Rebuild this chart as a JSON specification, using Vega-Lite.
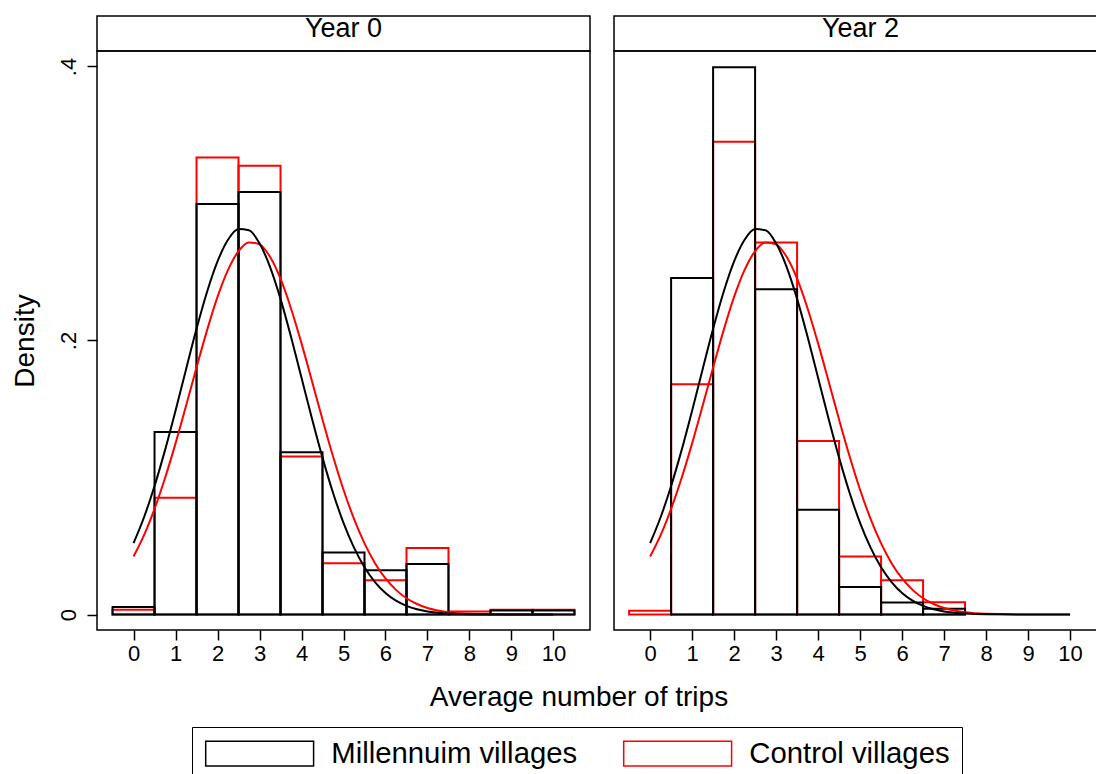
{
  "$schema": "https://vega.github.io/schema/vega-lite/v6.json",
  "background": "white",
  "padding": {"left": 10, "top": 14, "right": 0, "bottom": 0},
  "config": {
    "font": "Liberation Sans",
    "view": {"stroke": "black", "strokeWidth": 1.5},
    "axis": {"domain": false, "grid": false, "tickColor": "black", "tickWidth": 1.5, "labelColor": "black", "titleColor": "black", "labelFont": "Liberation Sans", "titleFont": "Liberation Sans", "titleFontWeight": "normal"},
    "legend": {"labelFont": "Liberation Sans"}
  },
  "datasets": {
    "bars": [
      {"panel": "Year 0", "group": "Control villages", "x": -0.5, "x_end": 0.5, "density": 0.0034},
      {"panel": "Year 0", "group": "Control villages", "x": 0.5, "x_end": 1.5, "density": 0.0853},
      {"panel": "Year 0", "group": "Control villages", "x": 1.5, "x_end": 2.5, "density": 0.3335},
      {"panel": "Year 0", "group": "Control villages", "x": 2.5, "x_end": 3.5, "density": 0.3276},
      {"panel": "Year 0", "group": "Control villages", "x": 3.5, "x_end": 4.5, "density": 0.1153},
      {"panel": "Year 0", "group": "Control villages", "x": 4.5, "x_end": 5.5, "density": 0.0375},
      {"panel": "Year 0", "group": "Control villages", "x": 5.5, "x_end": 6.5, "density": 0.0251},
      {"panel": "Year 0", "group": "Control villages", "x": 6.5, "x_end": 7.5, "density": 0.0485},
      {"panel": "Year 0", "group": "Control villages", "x": 7.5, "x_end": 8.5, "density": 0.0022},
      {"panel": "Year 0", "group": "Control villages", "x": 8.5, "x_end": 9.5, "density": 0.0035},
      {"panel": "Year 0", "group": "Control villages", "x": 9.5, "x_end": 10.5, "density": 0.0035},
      {"panel": "Year 0", "group": "Millennuim villages", "x": -0.5, "x_end": 0.5, "density": 0.0055},
      {"panel": "Year 0", "group": "Millennuim villages", "x": 0.5, "x_end": 1.5, "density": 0.1332},
      {"panel": "Year 0", "group": "Millennuim villages", "x": 1.5, "x_end": 2.5, "density": 0.2997},
      {"panel": "Year 0", "group": "Millennuim villages", "x": 2.5, "x_end": 3.5, "density": 0.3084},
      {"panel": "Year 0", "group": "Millennuim villages", "x": 3.5, "x_end": 4.5, "density": 0.1185},
      {"panel": "Year 0", "group": "Millennuim villages", "x": 4.5, "x_end": 5.5, "density": 0.0453},
      {"panel": "Year 0", "group": "Millennuim villages", "x": 5.5, "x_end": 6.5, "density": 0.0324},
      {"panel": "Year 0", "group": "Millennuim villages", "x": 6.5, "x_end": 7.5, "density": 0.0368},
      {"panel": "Year 0", "group": "Millennuim villages", "x": 7.5, "x_end": 8.5, "density": 0.0},
      {"panel": "Year 0", "group": "Millennuim villages", "x": 8.5, "x_end": 9.5, "density": 0.003},
      {"panel": "Year 0", "group": "Millennuim villages", "x": 9.5, "x_end": 10.5, "density": 0.003},
      {"panel": "Year 2", "group": "Control villages", "x": -0.5, "x_end": 0.5, "density": 0.0027},
      {"panel": "Year 2", "group": "Control villages", "x": 0.5, "x_end": 1.5, "density": 0.168},
      {"panel": "Year 2", "group": "Control villages", "x": 1.5, "x_end": 2.5, "density": 0.345},
      {"panel": "Year 2", "group": "Control villages", "x": 2.5, "x_end": 3.5, "density": 0.2715},
      {"panel": "Year 2", "group": "Control villages", "x": 3.5, "x_end": 4.5, "density": 0.1267},
      {"panel": "Year 2", "group": "Control villages", "x": 4.5, "x_end": 5.5, "density": 0.0424},
      {"panel": "Year 2", "group": "Control villages", "x": 5.5, "x_end": 6.5, "density": 0.0251},
      {"panel": "Year 2", "group": "Control villages", "x": 6.5, "x_end": 7.5, "density": 0.009},
      {"panel": "Year 2", "group": "Millennuim villages", "x": 0.5, "x_end": 1.5, "density": 0.2457},
      {"panel": "Year 2", "group": "Millennuim villages", "x": 1.5, "x_end": 2.5, "density": 0.3995},
      {"panel": "Year 2", "group": "Millennuim villages", "x": 2.5, "x_end": 3.5, "density": 0.2374},
      {"panel": "Year 2", "group": "Millennuim villages", "x": 3.5, "x_end": 4.5, "density": 0.0765},
      {"panel": "Year 2", "group": "Millennuim villages", "x": 4.5, "x_end": 5.5, "density": 0.020},
      {"panel": "Year 2", "group": "Millennuim villages", "x": 5.5, "x_end": 6.5, "density": 0.0088},
      {"panel": "Year 2", "group": "Millennuim villages", "x": 6.5, "x_end": 7.5, "density": 0.0042}
    ],
    "curves": [
      {"group": "Control villages", "x": 0, "density": 0.0423},
      {"group": "Control villages", "x": 0.25, "density": 0.0579},
      {"group": "Control villages", "x": 0.5, "density": 0.0771},
      {"group": "Control villages", "x": 0.75, "density": 0.0996},
      {"group": "Control villages", "x": 1, "density": 0.1249},
      {"group": "Control villages", "x": 1.25, "density": 0.1523},
      {"group": "Control villages", "x": 1.5, "density": 0.1803},
      {"group": "Control villages", "x": 1.75, "density": 0.2074},
      {"group": "Control villages", "x": 2, "density": 0.2318},
      {"group": "Control villages", "x": 2.25, "density": 0.2515},
      {"group": "Control villages", "x": 2.5, "density": 0.2652},
      {"group": "Control villages", "x": 2.75, "density": 0.2716},
      {"group": "Control villages", "x": 3, "density": 0.2702},
      {"group": "Control villages", "x": 3.25, "density": 0.2611},
      {"group": "Control villages", "x": 3.5, "density": 0.2451},
      {"group": "Control villages", "x": 3.75, "density": 0.2234},
      {"group": "Control villages", "x": 4, "density": 0.1979},
      {"group": "Control villages", "x": 4.25, "density": 0.1703},
      {"group": "Control villages", "x": 4.5, "density": 0.1423},
      {"group": "Control villages", "x": 4.75, "density": 0.1155},
      {"group": "Control villages", "x": 5, "density": 0.0911},
      {"group": "Control villages", "x": 5.25, "density": 0.0698},
      {"group": "Control villages", "x": 5.5, "density": 0.0519},
      {"group": "Control villages", "x": 5.75, "density": 0.0375},
      {"group": "Control villages", "x": 6, "density": 0.0263},
      {"group": "Control villages", "x": 6.25, "density": 0.018},
      {"group": "Control villages", "x": 6.5, "density": 0.0119},
      {"group": "Control villages", "x": 6.75, "density": 0.0077},
      {"group": "Control villages", "x": 7, "density": 0.0048},
      {"group": "Control villages", "x": 7.5, "density": 0.0017},
      {"group": "Control villages", "x": 8, "density": 0.0005},
      {"group": "Control villages", "x": 9, "density": 0.00004},
      {"group": "Control villages", "x": 10, "density": 0.0},
      {"group": "Millennuim villages", "x": 0, "density": 0.0521},
      {"group": "Millennuim villages", "x": 0.25, "density": 0.071},
      {"group": "Millennuim villages", "x": 0.5, "density": 0.0938},
      {"group": "Millennuim villages", "x": 0.75, "density": 0.12},
      {"group": "Millennuim villages", "x": 1, "density": 0.1488},
      {"group": "Millennuim villages", "x": 1.25, "density": 0.1789},
      {"group": "Millennuim villages", "x": 1.5, "density": 0.2085},
      {"group": "Millennuim villages", "x": 1.75, "density": 0.2354},
      {"group": "Millennuim villages", "x": 2, "density": 0.2577},
      {"group": "Millennuim villages", "x": 2.25, "density": 0.2735},
      {"group": "Millennuim villages", "x": 2.5, "density": 0.2813},
      {"group": "Millennuim villages", "x": 2.75, "density": 0.2804},
      {"group": "Millennuim villages", "x": 3, "density": 0.2709},
      {"group": "Millennuim villages", "x": 3.25, "density": 0.2538},
      {"group": "Millennuim villages", "x": 3.5, "density": 0.2304},
      {"group": "Millennuim villages", "x": 3.75, "density": 0.2027},
      {"group": "Millennuim villages", "x": 4, "density": 0.1728},
      {"group": "Millennuim villages", "x": 4.25, "density": 0.1429},
      {"group": "Millennuim villages", "x": 4.5, "density": 0.1145},
      {"group": "Millennuim villages", "x": 4.75, "density": 0.0889},
      {"group": "Millennuim villages", "x": 5, "density": 0.0669},
      {"group": "Millennuim villages", "x": 5.25, "density": 0.0488},
      {"group": "Millennuim villages", "x": 5.5, "density": 0.0345},
      {"group": "Millennuim villages", "x": 5.75, "density": 0.0237},
      {"group": "Millennuim villages", "x": 6, "density": 0.0157},
      {"group": "Millennuim villages", "x": 6.25, "density": 0.0101},
      {"group": "Millennuim villages", "x": 6.5, "density": 0.0063},
      {"group": "Millennuim villages", "x": 6.75, "density": 0.0038},
      {"group": "Millennuim villages", "x": 7, "density": 0.0022},
      {"group": "Millennuim villages", "x": 7.5, "density": 0.0007},
      {"group": "Millennuim villages", "x": 8, "density": 0.0002},
      {"group": "Millennuim villages", "x": 9, "density": 0.0},
      {"group": "Millennuim villages", "x": 10, "density": 0.0}
    ]
  },
  "spacing": 18,
  "vconcat": [
    {
      "spacing": 22,
      "hconcat": [
        {
          "bounds": "flush",
          "spacing": 0,
          "vconcat": [
            {
              "width": 493,
              "height": 35,
              "data": {"values": [{"panel": "Year 0"}]},
              "layer": [
                {"mark": {"type": "rect", "filled": false, "stroke": "black", "strokeWidth": 1.5}, "encoding": {}},
                {"mark": {"type": "text", "fontSize": 27, "baseline": "middle", "dy": -5, "color": "black"}, "encoding": {"text": {"field": "panel"}}}
              ]
            },
            {
              "width": 493,
              "height": 579,
              "encoding": {
                "x": {"field": "x", "type": "quantitative", "scale": {"domain": [-0.87, 10.87], "nice": false, "zero": false},
                  "axis": {"values": [0, 1, 2, 3, 4, 5, 6, 7, 8, 9, 10], "tickSize": 10, "labelFontSize": 22, "labelPadding": 3, "title": null}},
                "y": {"field": "density", "type": "quantitative", "scale": {"domain": [-0.0113, 0.4113], "nice": false, "zero": false},
                  "axis": {"values": [0, 0.2, 0.4], "labelExpr": "datum.value == 0 ? '0' : replace(format(datum.value, '.1f'), '0.', '.')", "labelAngle": -90, "labelAlign": "center", "labelBaseline": "alphabetic", "tickSize": 10, "labelFontSize": 22, "labelPadding": 12, "title": "Density", "titleFontSize": 28, "titlePadding": 18}},
                "stroke": {"field": "group", "type": "nominal",
                  "scale": {"domain": ["Millennuim villages", "Control villages"], "range": ["black", "red"]},
                  "legend": {"title": null, "orient": "none", "legendX": 95, "legendY": 711, "direction": "horizontal", "strokeColor": "black", "padding": 12,
                    "symbolType": "M-4.15,-0.95L4.15,-0.95L4.15,0.95L-4.15,0.95Z", "symbolSize": 676, "symbolOffset": 41, "symbolStrokeWidth": 1.5, "symbolFillColor": "white",
                    "labelFontSize": 29.3, "labelOffset": 57, "columnPadding": 42, "labelLimit": 0, "labelColor": "black"}}
              },
              "layer": [
                {
                  "data": {"name": "bars"},
                  "transform": [{"filter": "datum.panel == 'Year 0'"}],
                  "mark": {"type": "rect", "filled": false, "strokeWidth": 2},
                  "encoding": {"x2": {"field": "x_end"}, "y2": {"datum": 0}}
                },
                {
                  "data": {"name": "curves"},
                  "mark": {"type": "line", "strokeWidth": 2, "interpolate": "monotone"},
                  "encoding": {}
                }
              ]
            }
          ]
        },
        {
          "bounds": "flush",
          "spacing": 0,
          "vconcat": [
            {
              "width": 493,
              "height": 35,
              "data": {"values": [{"panel": "Year 2"}]},
              "layer": [
                {"mark": {"type": "rect", "filled": false, "stroke": "black", "strokeWidth": 1.5}, "encoding": {}},
                {"mark": {"type": "text", "fontSize": 27, "baseline": "middle", "dy": -5, "color": "black"}, "encoding": {"text": {"field": "panel"}}}
              ]
            },
            {
              "width": 493,
              "height": 579,
              "encoding": {
                "x": {"field": "x", "type": "quantitative", "scale": {"domain": [-0.86, 10.88], "nice": false, "zero": false},
                  "axis": {"values": [0, 1, 2, 3, 4, 5, 6, 7, 8, 9, 10], "tickSize": 10, "labelFontSize": 22, "labelPadding": 3, "title": null}},
                "y": {"field": "density", "type": "quantitative", "scale": {"domain": [-0.0113, 0.4113], "nice": false, "zero": false}, "axis": null},
                "stroke": {"field": "group", "type": "nominal",
                  "scale": {"domain": ["Millennuim villages", "Control villages"], "range": ["black", "red"]}}
              },
              "layer": [
                {
                  "data": {"name": "bars"},
                  "transform": [{"filter": "datum.panel == 'Year 2'"}],
                  "mark": {"type": "rect", "filled": false, "strokeWidth": 2},
                  "encoding": {"x2": {"field": "x_end"}, "y2": {"datum": 0}}
                },
                {
                  "data": {"name": "curves"},
                  "mark": {"type": "line", "strokeWidth": 2, "interpolate": "monotone"},
                  "encoding": {}
                }
              ]
            }
          ]
        }
      ]
    },
    {
      "width": 964,
      "height": 30,
      "view": {"stroke": null},
      "data": {"values": [{"title": "Average number of trips"}]},
      "mark": {"type": "text", "fontSize": 28, "baseline": "middle", "color": "black"},
      "encoding": {"text": {"field": "title"}}
    }
  ]
}
